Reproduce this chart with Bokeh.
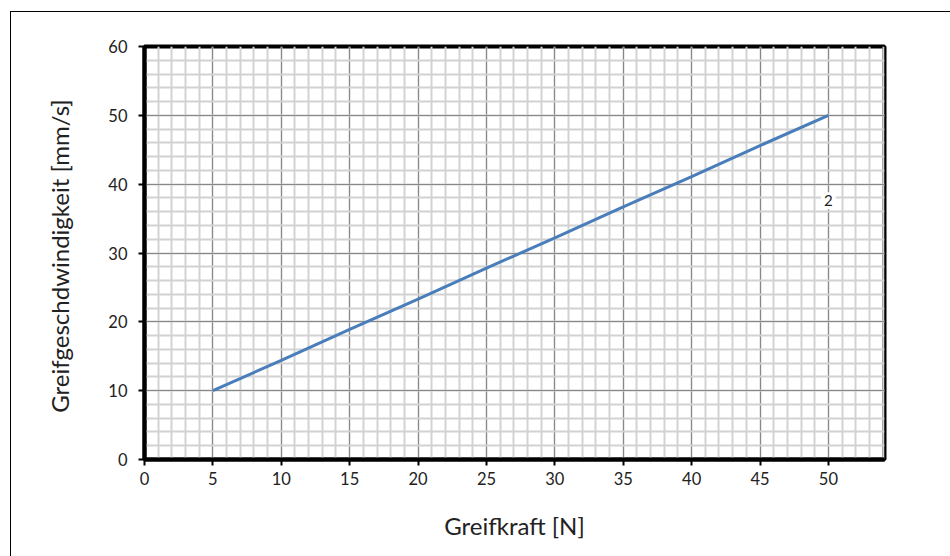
from bokeh.plotting import figure
from bokeh.embed import file_html
from bokeh.resources import INLINE
from bokeh.models import SingleIntervalTicker, Range1d, Label

# data
greifkraft = [5, 10, 15, 20, 25, 30, 35, 40, 45, 50]
geschwindigkeit = [10, 14.4, 18.9, 23.3, 27.8, 32.2, 36.7, 41.1, 45.6, 50]
label_x = 50
label_y = 37.6
label_text = "2"
x_title = "Greifkraft [N]"
y_title = "Greifgeschdwindigkeit  [mm/s]"

FONT = "Lato"

p = figure(frame_width=740, frame_height=413, min_border_left=133, min_border_right=66,
           min_border_top=34, min_border_bottom=97,
           output_backend="svg", toolbar_location=None,
           x_range=Range1d(0, 54.1), y_range=Range1d(0, 60))
p.styles = {"border-left": "1px solid black", "border-top": "1px solid black",
            "margin-left": "10px", "margin-top": "11px"}
p.background_fill_color = "white"
p.border_fill_color = "white"
p.outline_line_color = "black"
p.outline_line_width = 4

p.xaxis.ticker = SingleIntervalTicker(interval=5, num_minor_ticks=5)
p.yaxis.ticker = SingleIntervalTicker(interval=10, num_minor_ticks=5)

for ax in (p.xaxis[0], p.yaxis[0]):
    ax.axis_line_color = "black"
    ax.axis_line_width = 4
    ax.major_tick_line_color = "black"
    ax.major_tick_line_width = 2
    ax.major_tick_out = 6
    ax.major_tick_in = 0
    ax.minor_tick_line_color = None
    ax.major_label_text_font = FONT
    ax.major_label_text_font_size = "16.5px"
    ax.major_label_text_color = "#222222"
    ax.axis_label_text_font = FONT
    ax.axis_label_text_font_size = "24px"
    ax.axis_label_text_font_style = "normal"
    ax.axis_label_text_color = "#222222"

p.xaxis.axis_label = x_title
p.yaxis.axis_label = y_title
p.xaxis.major_label_standoff = 6
p.yaxis.major_label_standoff = 11
p.xaxis.axis_label_standoff = 23
p.yaxis.axis_label_standoff = 31

for g in (p.xgrid[0], p.ygrid[0]):
    g.grid_line_color = "#888888"
    g.grid_line_width = 1
    g.minor_grid_line_color = "#d2d2d2"
    g.minor_grid_line_width = 2
    g.level = "underlay"

p.line(greifkraft, geschwindigkeit, line_color="#4a7ebb", line_width=3)

lab = Label(x=label_x, y=label_y, text=label_text, text_font=FONT,
            text_font_size="15px", text_align="center", text_baseline="middle",
            background_fill_color="white", padding=3, text_color="#222222")
p.add_layout(lab)

open("out.html", "w").write(file_html(p, INLINE))
